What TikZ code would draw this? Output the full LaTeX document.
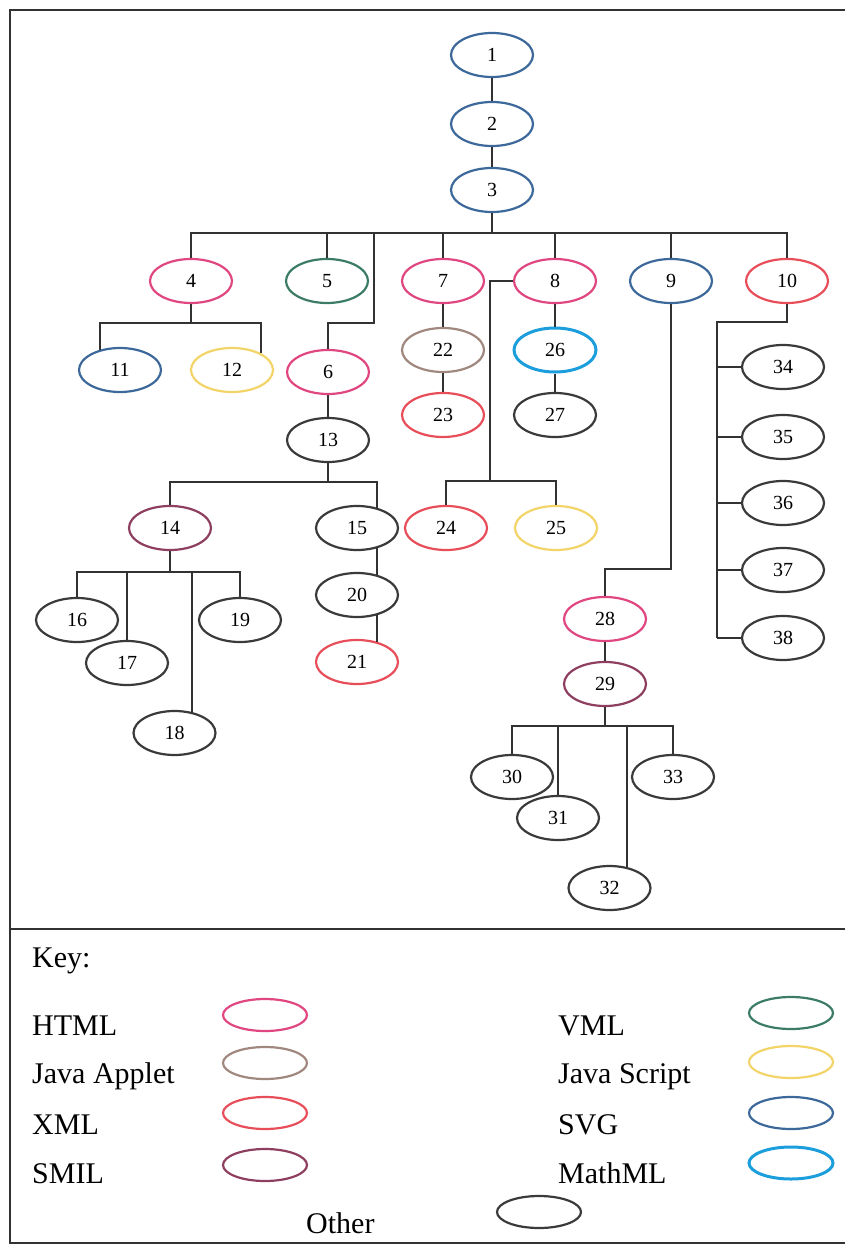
\documentclass[tikz,border=0pt]{standalone}
\usepackage{fontspec}
\setmainfont{Liberation Serif}
\usepackage{tikz}
\usetikzlibrary{shapes.geometric,positioning,calc}
\definecolor{htmlc}{RGB}{224,70,128}
\definecolor{appletc}{RGB}{160,136,126}
\definecolor{xmlc}{RGB}{232,78,90}
\definecolor{smilc}{RGB}{142,62,94}
\definecolor{vmlc}{RGB}{60,124,100}
\definecolor{jsc}{RGB}{242,212,105}
\definecolor{svgc}{RGB}{60,104,154}
\definecolor{mathc}{RGB}{28,158,220}
\definecolor{otherc}{RGB}{58,58,58}
\definecolor{linec}{RGB}{50,50,50}

\begin{document}
\begin{tikzpicture}[x=1pt, y=-1pt,
    blob/.style={ellipse, draw, line width=2.2pt, minimum width=82pt, minimum height=44pt,
                 inner sep=0pt, font=\fontsize{20}{20}\selectfont},
    keyblob/.style={ellipse, draw, line width=2.2pt, minimum width=84pt, minimum height=32pt, inner sep=0pt},
    keytext/.style={anchor=base west, inner sep=0pt, font=\fontsize{30}{30}\selectfont},
    link/.style={line width=2pt, draw=linec}]
\useasboundingbox (0,0) rectangle (845,1246);

% frame and key separator
\draw[line width=2.4pt, draw=linec] (845,10) -- (10,10) -- (10,1243) -- (845,1243);
\draw[line width=2.4pt, draw=linec] (10,929) -- (845,929);

% nodes, one loop per colour
\foreach \i/\x/\y in {1/492/55, 2/492/124, 3/492/190, 9/671/281, 11/120/370}
  \node[blob, draw=svgc] (n\i) at (\x,\y) {\i};
\foreach \i/\x/\y in {4/191/281, 6/328/372, 7/443/281, 8/555/281, 28/605/619}
  \node[blob, draw=htmlc] (n\i) at (\x,\y) {\i};
\foreach \i/\x/\y in {10/787/281, 21/357/662, 23/443/415, 24/446/528}
  \node[blob, draw=xmlc] (n\i) at (\x,\y) {\i};
\foreach \i/\x/\y in {12/232/370, 25/556/528}
  \node[blob, draw=jsc] (n\i) at (\x,\y) {\i};
\foreach \i/\x/\y in {14/170/528, 29/605/684}
  \node[blob, draw=smilc] (n\i) at (\x,\y) {\i};
\node[blob, draw=vmlc] (n5) at (327,281) {5};
\node[blob, draw=appletc] (n22) at (443,350) {22};
\node[blob, draw=mathc, line width=3pt] (n26) at (555,350) {26};
\foreach \i/\x/\y in {13/328/440, 15/357/528, 16/77/620, 17/127/663, 18/174.5/733,
                      19/240/620, 20/357/595, 27/555/415, 30/512/777, 31/558/818,
                      32/609.5/888, 33/673/777, 34/783/367, 35/783/437, 36/783/503,
                      37/783/570, 38/783/638}
  \node[blob, draw=otherc] (n\i) at (\x,\y) {\i};

% bus points
\coordinate (b3) at (492,233);
\coordinate (b4) at (191,323);
\coordinate (b6) at (374,323);
\coordinate (b8) at (490,481);
\coordinate (b9) at (605,569);
\coordinate (b10) at (717,322);
\coordinate (b13) at (328,482);
\coordinate (b14) at (170,572);
\coordinate (b29) at (605,726);

% connectors
\draw[link] (n1) -- (n2);
\draw[link] (n2) -- (n3);
\draw[link] (n3) -- (b3);
\draw[link] (n4) |- (b3) -| (n10);
\foreach \n in {5,7,8,9}
  \draw[link] (n\n) -- (n\n |- b3);
\draw[link] (b6 |- b3) -- (b6) -| (n6);
\draw[link] (n4) -- (b4);
\draw[link] (n11.135) |- (b4) -| (n12.30);
\draw[link] (n6) -- (n13);
\draw[link] (n13) -- (b13);
\draw[link] (n14) |- (b13) -| (n15.45);
\draw[link] (n15.-45) -- (n20.45);
\draw[link] (n20.-45) -- (n21.45);
\draw[link] (n14) -- (b14);
\draw[link] (n16) |- (b14) -| (n19);
\draw[link] (n17) -- (n17 |- b14);
\draw[link] (n18.50) -- (n18.50 |- b14);
\draw[link] (n7) -- (n22);
\draw[link] (n22) -- (n23);
\draw[link] (n8) -- (n26);
\draw[link] (n26) -- (n27);
\draw[link] (n8) -| (b8);
\draw[link] (n24) |- (b8) -| (n25);
\draw[link] (n9) |- (b9) -- (n28);
\draw[link] (n28) -- (n29);
\draw[link] (n29) -- (b29);
\draw[link] (n30) |- (b29) -| (n33);
\draw[link] (n31) -- (n31 |- b29);
\draw[link] (n32.50) -- (n32.50 |- b29);
\draw[link] (n10) |- (b10) -- (b10 |- n38);
\foreach \n in {34,...,38}
  \draw[link] (n\n) -- (b10 |- n\n);

% key
\node[keytext] (keyhead) at (32,967) {Key:};
\node[keytext] (thtml) at (32,1035) {HTML};
\node[keytext] (tapplet) at (32,1083) {Java Applet};
\node[keytext] (txml) at (32,1134) {XML};
\node[keytext] (tsmil) at (32,1183) {SMIL};
\node[keytext] (tvml) at (558,1035) {VML};
\node[keytext] (tjs) at (558,1083) {Java Script};
\node[keytext] (tsvg) at (558,1134) {SVG};
\node[keytext] (tmath) at (558,1183) {MathML};
\node[keytext] (tother) at (306,1233) {Other};
\node[keyblob, draw=htmlc] (khtml) at (265,1015) {};
\node[keyblob, draw=appletc] (kapplet) at (265,1063) {};
\node[keyblob, draw=xmlc] (kxml) at (265,1113) {};
\node[keyblob, draw=smilc] (ksmil) at (265,1165) {};
\node[keyblob, draw=vmlc] (kvml) at (791,1013) {};
\node[keyblob, draw=jsc] (kjs) at (791,1062) {};
\node[keyblob, draw=svgc] (ksvg) at (791,1113) {};
\node[keyblob, draw=mathc, line width=3pt] (kmath) at (791,1163) {};
\node[keyblob, draw=otherc] (kother) at (539,1212) {};
\end{tikzpicture}
\end{document}
